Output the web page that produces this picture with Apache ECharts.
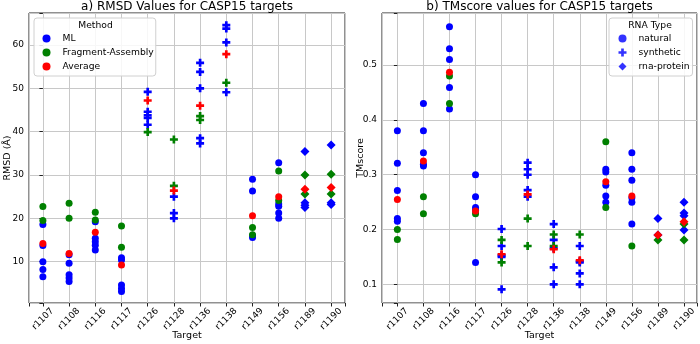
<!DOCTYPE html>
<html>
<head>
<meta charset="utf-8">
<script src="https://cdn.jsdelivr.net/npm/echarts@6.0.0/dist/echarts.min.js"></script>
<style>
  html, body { margin: 0; padding: 0; background: #fff; }
  #chart { width: 700px; height: 344px; }
</style>
</head>
<body>
<div id="chart"></div>
<script>
const categories = ['r1107', 'r1108', 'r1116', 'r1117', 'r1126', 'r1128', 'r1136', 'r1138', 'r1149', 'r1156', 'r1189', 'r1190'];
const rnaTypes = ['natural', 'natural', 'natural', 'natural', 'synthetic', 'synthetic', 'synthetic', 'synthetic', 'natural', 'natural', 'rna-protein', 'rna-protein'];
const rnaTypeNames = ['natural', 'synthetic', 'rna-protein'];

// RMSD, one list per target
const rmsdML = [
  [18.6, 13.7, 10.0, 8.2, 6.5],
  [11.6, 9.6, 7.0, 6.2, 5.4],
  [19.2, 15.4, 14.6, 13.8, 12.7],
  [10.9, 10.4, 4.6, 3.8, 3.1],
  [49.2, 44.6, 43.8, 43.2, 41.6],
  [25.0, 21.2, 20.0],
  [55.9, 53.8, 50.0, 38.5, 37.3],
  [64.6, 63.8, 60.6, 49.1],
  [29.0, 26.3, 16.0, 15.6],
  [32.8, 23.3, 22.8, 21.2, 20.0],
  [35.4, 23.6, 23.0, 22.5],
  [36.9, 23.6, 23.2]
];
const rmsdFA = [
  [22.7, 19.5], [23.5, 20.0], [21.4, 19.6], [18.2, 13.3], [39.9], [38.2, 27.5],
  [43.6, 42.7], [51.3], [17.9, 16.2], [30.9, 24.1], [30.0, 25.6], [30.2, 25.6]
];
const rmsdAvg = [14.2, 11.9, 16.8, 9.2, 47.2, 26.4, 46.0, 57.9, 20.6, 25.0, 26.7, 27.1];

// TMscore, one list per target
const tmML = [
  [0.380, 0.321, 0.271, 0.220, 0.215],
  [0.430, 0.380, 0.340, 0.319, 0.316],
  [0.570, 0.530, 0.510, 0.459, 0.420],
  [0.300, 0.260, 0.240, 0.235, 0.140],
  [0.201, 0.170, 0.153, 0.150, 0.091],
  [0.322, 0.310, 0.300, 0.272, 0.260],
  [0.210, 0.181, 0.166, 0.131, 0.100],
  [0.170, 0.142, 0.140, 0.120, 0.100],
  [0.310, 0.305, 0.281, 0.261, 0.250],
  [0.340, 0.310, 0.290, 0.258, 0.250, 0.210],
  [0.220, 0.190],
  [0.250, 0.230, 0.225, 0.199]
];
const tmFA = [
  [0.200, 0.182], [0.260, 0.229], [0.480, 0.430], [0.229], [0.181, 0.140], [0.220, 0.170],
  [0.191, 0.170], [0.191], [0.360, 0.240], [0.170], [0.181], [0.210, 0.181]
];
const tmAvg = [0.255, 0.325, 0.487, 0.234, 0.155, 0.264, 0.164, 0.144, 0.287, 0.261, 0.190, 0.214];

const FONT = 'DejaVu Sans';
const PLUS = 'path://M2,0H4V2H6V4H4V6H2V4H0V2H2Z';
const BLUE = '#0000ff', GREEN = '#008000', RED = '#ff0000';

const markerFor = t => t === 'synthetic' ? PLUS : t === 'rna-protein' ? 'diamond' : 'circle';
const sizeFor = t => t === 'synthetic' ? 8 : t === 'rna-protein' ? 9 : 7;

const toPoints = lists => {
  const out = [];
  lists.forEach((vals, i) => {
    [].concat(vals).forEach(v => {
      out.push({ value: [i, v], symbol: markerFor(rnaTypes[i]), symbolSize: sizeFor(rnaTypes[i]) });
    });
  });
  return out;
};

const scatter = (name, color, lists, idx, z) => ({
  type: 'scatter',
  name,
  xAxisIndex: idx,
  yAxisIndex: idx,
  z,
  itemStyle: { color, opacity: 1 },
  emphasis: { disabled: true },
  data: toPoints(lists)
});

const near = (v, step) => Math.abs(v / step - Math.round(v / step)) < 1e-6;

const xAxis = (idx, min, max) => ({
  type: 'value',
  gridIndex: idx,
  min, max,
  splitNumber: 12,
  minInterval: 1,
  name: 'Target',
  nameLocation: 'middle',
  nameGap: 28,
  nameMoveOverlap: false,
  nameTextStyle: { fontFamily: FONT, fontSize: 9.5, color: '#000' },
  axisLine: { show: false },
  axisTick: { show: true, length: 3.5, lineStyle: { color: '#222' } },
  axisLabel: {
    rotate: 45, align: 'center', verticalAlign: 'middle', margin: 16,
    fontFamily: FONT, fontSize: 9, color: '#000',
    formatter: v => near(v, 1) ? (categories[Math.round(v)] || '') : ''
  },
  splitLine: { show: true, lineStyle: { color: '#c8c8c8', width: 1 } }
});

const yAxis = (idx, min, max, name, step, digits) => ({
  type: 'value',
  gridIndex: idx,
  min, max,
  splitNumber: 6,
  name,
  nameLocation: 'middle',
  nameGap: 16,
  nameMoveOverlap: false,
  nameTextStyle: { fontFamily: FONT, fontSize: 9.5, color: '#000' },
  axisLine: { show: false },
  axisTick: { show: true, length: 3.5, lineStyle: { color: '#222' } },
  axisLabel: {
    margin: 5, fontFamily: FONT, fontSize: 9, color: '#000',
    formatter: v => near(v, step) ? v.toFixed(digits) : ''
  },
  splitLine: { show: true, lineStyle: { color: '#c8c8c8', width: 1 } }
});

const legendBox = {
  orient: 'vertical',
  itemWidth: 8,
  itemHeight: 8,
  itemGap: 3,
  backgroundColor: 'rgba(255,255,255,0.85)',
  borderColor: '#d0d0d0',
  borderWidth: 1,
  borderRadius: 3,
  selectedMode: false,
  textStyle: { fontFamily: FONT, fontSize: 9.2, color: '#000', lineHeight: 11, padding: [0, 0, 0, 7] }
};

const gridBox = left => ({
  left, top: 13, width: 315, height: 290,
  outerBoundsMode: 'none',
  containLabel: false,
  show: true, borderColor: '#222', borderWidth: 1, backgroundColor: 'transparent'
});

const chart = echarts.init(document.getElementById('chart'), null, { renderer: 'canvas' });

chart.setOption({
  animation: false,
  backgroundColor: '#fff',
  grid: [
    Object.assign(gridBox(29), { width: 316 }),
    gridBox(382)
  ],
  xAxis: [xAxis(0, -0.53, 11.53), xAxis(1, -0.59, 11.5)],
  yAxis: [
    yAxis(0, 0.45, 67.4, 'RMSD (Å)', 10, 0),
    yAxis(1, 0.066, 0.595, 'TMscore', 0.1, 1)
  ],
  legend: [
    Object.assign({}, legendBox, {
      left: 34, top: 18, padding: [15, 2, 4, 8.5],
      data: [
        { name: 'ML', icon: 'circle' },
        { name: 'Fragment-Assembly', icon: 'circle' },
        { name: 'Average', icon: 'circle' }
      ]
    }),
    Object.assign({}, legendBox, {
      left: 609, top: 18, padding: [15, 3, 4, 9.5],
      data: rnaTypeNames.map(t => ({ name: t, icon: markerFor(t) }))
    })
  ],
  graphic: [
    { type: 'text', x: 187, y: 6.5, z: 100, style: { text: 'a) RMSD Values for CASP15 targets', align: 'center', verticalAlign: 'middle', font: '12px "DejaVu Sans"', fill: '#000' } },
    { type: 'text', x: 539.5, y: 6.5, z: 100, style: { text: 'b) TMscore values for CASP15 targets', align: 'center', verticalAlign: 'middle', font: '12px "DejaVu Sans"', fill: '#000' } },
    { type: 'text', x: 95.5, y: 25.7, z: 100, style: { text: 'Method', align: 'center', verticalAlign: 'middle', font: '9.2px "DejaVu Sans"', fill: '#000' } },
    { type: 'text', x: 650, y: 25.7, z: 100, style: { text: 'RNA Type', align: 'center', verticalAlign: 'middle', font: '9.2px "DejaVu Sans"', fill: '#000' } }
  ],
  series: [
    scatter('ML', BLUE, rmsdML, 0, 2),
    scatter('Fragment-Assembly', GREEN, rmsdFA, 0, 3),
    scatter('Average', RED, rmsdAvg, 0, 4),
    scatter('ML', BLUE, tmML, 1, 2),
    scatter('Fragment-Assembly', GREEN, tmFA, 1, 3),
    scatter('Average', RED, tmAvg, 1, 4)
  ].concat(rnaTypeNames.map(t => ({
    type: 'scatter', name: t, xAxisIndex: 1, yAxisIndex: 1,
    symbol: markerFor(t), itemStyle: { color: BLUE }, data: []
  })))
});
</script>
</body>
</html>
